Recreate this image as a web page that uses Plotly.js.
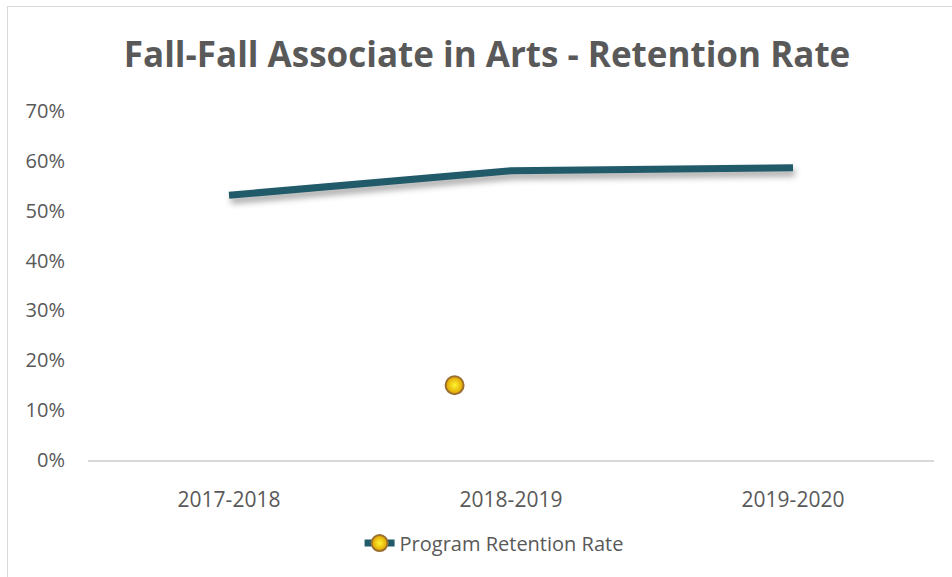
<!DOCTYPE html>
<html>
<head>
<meta charset="utf-8">
<script src="https://cdn.plot.ly/plotly-3.0.1.min.js"></script>
<style>
  html, body { margin:0; padding:0; background:#fff; overflow:hidden; }
  #wrap { position:relative; width:952px; height:577px; }
  #chart { width:952px; height:577px; }
  #frame { position:absolute; left:7px; top:6px; width:2000px; height:2000px;
           border:1.5px solid #d9d9d9; pointer-events:none; }
  #chart .scatterlayer .trace:first-child .js-line {
    filter: drop-shadow(2px 5px 3px rgba(0,0,0,0.35));
  }
</style>
</head>
<body>
<div id="wrap">
  <div id="chart"></div>
  <div id="frame"></div>
</div>
<script>
// ---- data ----
const categories = ['2017-2018', '2018-2019', '2019-2020'];
const retentionRate = [53.1, 58.0, 58.6];           // percent
const yTickValues = [0, 10, 20, 30, 40, 50, 60, 70];
const yTickLabels = ['0%', '10%', '20%', '30%', '40%', '50%', '60%', '70%'];
const seriesName = 'Program Retention Rate';
// stray marker shown in the reference chart
const markerX = [0.8];   // position along the category axis (index units)
const markerY = [15];    // percent

const catIdx = categories.map((c, i) => i);

const lineColor = '#215a69';
const textColor = '#595959';

const traces = [
  {
    x: catIdx, y: retentionRate, type: 'scatter', mode: 'lines',
    line: { color: lineColor, width: 7 },
    showlegend: false, hoverinfo: 'skip'
  },
  {
    x: markerX, y: markerY, type: 'scatter', mode: 'lines+markers',
    name: seriesName,
    line: { color: lineColor, width: 7 },
    marker: {
      size: 18, color: '#e0a000',
      gradient: { type: 'radial', color: '#fff530' },
      line: { color: '#9a7030', width: 2 }
    }
  }
];

const layout = {
  width: 952, height: 577,
  margin: { l: 88, r: 18, t: 111, b: 117 },
  paper_bgcolor: '#ffffff', plot_bgcolor: '#ffffff',
  title: {
    text: '<b>Fall-Fall Associate in Arts - Retention Rate</b>',
    font: { family: 'Open Sans, sans-serif', size: 35, color: textColor },
    xref: 'container', x: 0.5116, xanchor: 'center',
    yref: 'container', y: 0.905, yanchor: 'middle'
  },
  xaxis: {
    type: 'linear', range: [-0.5, 2.5],
    tickmode: 'array', tickvals: catIdx, ticktext: categories,
    showgrid: false, zeroline: false,
    showline: true, linecolor: '#d9d9d9', linewidth: 1.5,
    ticks: '', ticklabelstandoff: 20,
    tickfont: { family: 'Open Sans, sans-serif', size: 21, color: textColor },
    fixedrange: true
  },
  yaxis: {
    range: [0, 70], tickmode: 'array', tickvals: yTickValues, ticktext: yTickLabels,
    showgrid: false, zeroline: false, showline: false,
    ticks: '', ticklabelstandoff: 22,
    tickfont: { family: 'Open Sans, sans-serif', size: 20, color: textColor },
    fixedrange: true
  },
  showlegend: true,
  legend: {
    orientation: 'h', x: 0.48, xanchor: 'center', y: -0.238, yanchor: 'middle',
    font: { family: 'Open Sans, sans-serif', size: 20, color: textColor },
    bgcolor: 'rgba(0,0,0,0)'
  }
};

Plotly.newPlot('chart', traces, layout, { displayModeBar: false, staticPlot: true });
</script>
</body>
</html>
